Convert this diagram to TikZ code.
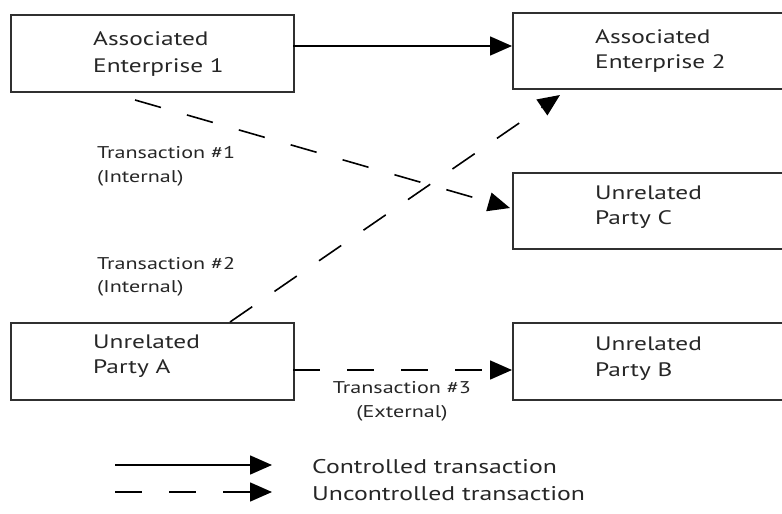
\documentclass[tikz,border=0pt]{standalone}
\usepackage{fontspec}
\setmainfont[FakeStretch=1.3]{PT Sans}
\usetikzlibrary{arrows.meta}
\definecolor{txt}{HTML}{262626}
\definecolor{edge}{HTML}{303030}
\tikzset{
  box/.style={draw=edge, line width=1.8pt, anchor=north west, inner sep=0pt},
  lbl/.style={anchor=base west, inner sep=0pt, text=txt, font=\fontsize{19.5}{24}\selectfont},
  tlbl/.style={anchor=base west, inner sep=0pt, text=txt, font=\fontsize{17}{21}\selectfont},
  clbl/.style={anchor=base, inner sep=0pt, text=txt, font=\fontsize{17}{21}\selectfont},
  glbl/.style={anchor=base west, inner sep=0pt, text=txt, font=\fontsize{19.8}{24}\selectfont},
  conn/.style={line width=1.6pt, draw=black, -{Triangle[length=22pt,width=19pt]}},
  udash/.style={conn, dash pattern=on 27pt off 27pt},
}
\begin{document}
\begin{tikzpicture}[x=1pt,y=-1pt]
\useasboundingbox (0,0) rectangle (782,514);
\begin{scope}
\clip (0,0) rectangle (782,514);
% boxes
\node[box, minimum width=283pt, minimum height=77pt] (ae1) at (10,14) {};
\node[box, minimum width=280pt, minimum height=76pt] (ae2) at (512,12) {};
\node[box, minimum width=280pt, minimum height=76pt] (upc) at (512,172) {};
\node[box, minimum width=283pt, minimum height=77pt] (upa) at (10,322) {};
\node[box, minimum width=280pt, minimum height=77pt] (upb) at (512,322) {};
\end{scope}
% box texts
\node[lbl] (t1a) at (93,45) {Associated};
\node[lbl] (t1b) at (93,72) {Enterprise 1};
\node[lbl] (t2a) at (595,43) {Associated};
\node[lbl] (t2b) at (595,68) {Enterprise 2};
\node[lbl] (t3a) at (595,199) {Unrelated};
\node[lbl] (t3b) at (595,224) {Party C};
\node[lbl] (t4a) at (93,348) {Unrelated};
\node[lbl] (t4b) at (93,373) {Party A};
\node[lbl] (t5a) at (595,350) {Unrelated};
\node[lbl] (t5b) at (595,376) {Party B};
% transaction labels
\node[tlbl] (x1a) at (97,158) {Transaction \#1};
\node[tlbl] (x1b) at (97,182) {(Internal)};
\node[tlbl] (x2a) at (97,269) {Transaction \#2};
\node[tlbl] (x2b) at (97,292) {(Internal)};
\node[clbl] (x3a) at (402,393) {Transaction \#3};
\node[clbl] (x3b) at (402,417) {(External)};
% connectors
\coordinate (s1) at (293,46);
\draw[conn] (s1) -- (s1 -| ae2.west);
\coordinate (d1s) at (135,100);
\coordinate (d1e) at (510,208);
\draw[udash] (d1s) -- (d1e);
\coordinate (d2s) at (230,322);
\coordinate (d2e) at (560,95);
\draw[udash] (d2s) -- (d2e);
\coordinate (d3s) at (293,370);
\draw[udash] (d3s) -- (d3s -| upb.west);
% legend
\coordinate (l1s) at (115,465);
\coordinate (l1e) at (272,465);
\draw[conn] (l1s) -- (l1e);
\coordinate (l2s) at (115,492);
\coordinate (l2e) at (272,492);
\draw[udash] (l2s) -- (l2e);
\node[glbl] (lg1) at (312,473) {Controlled transaction};
\node[glbl] (lg2) at (312,500) {Uncontrolled transaction};
\end{tikzpicture}
\end{document}
